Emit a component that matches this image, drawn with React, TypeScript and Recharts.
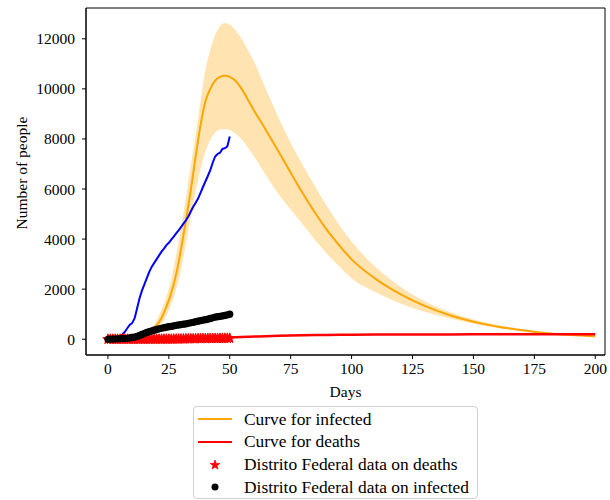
import React from "react";
import {
  ComposedChart,
  Area,
  Line,
  Scatter,
  XAxis,
  YAxis,
  ReferenceArea,
} from "recharts";

const FONT = "'Liberation Serif', 'Times New Roman', serif";

// model curves (days sampled unevenly, denser around the peak)
const modelDays = [
  0, 5, 10, 15, 18, 20, 22, 24, 26, 28, 30, 32, 34, 36, 38, 40, 42, 44, 46, 48,
  50, 52, 55, 58, 60, 65, 70, 75, 80, 85, 90, 95, 100, 110, 120, 130, 140, 150,
  160, 170, 180, 190, 200,
];
const infectedMid = [
  0, 5, 40, 160, 350, 550, 850, 1300, 1850, 2600, 3600, 4750, 5950, 7300, 8550,
  9500, 10000, 10330, 10480, 10520, 10480, 10350, 9980, 9470, 9130, 8330, 7500,
  6650, 5820, 5050, 4350, 3740, 3190, 2400, 1800, 1330, 970, 700, 500, 360, 240,
  170, 120,
];
const infectedHigh = [
  0, 8, 60, 220, 460, 770, 1180, 1700, 2400, 3350, 4450, 5650, 6950, 8150, 9500,
  10750, 11550, 12150, 12500, 12630, 12570, 12380, 11980, 11450, 11080, 9950,
  8850, 7850, 6950, 6100, 5300, 4550, 3900, 2870, 2100, 1520, 1100, 790, 570,
  410, 280, 190, 130,
];
const infectedLow = [
  0, 3, 25, 110, 250, 400, 620, 950, 1400, 2000, 2800, 3800, 4900, 5900, 6800,
  7500, 7950, 8250, 8380, 8400, 8360, 8240, 7970, 7580, 7300, 6530, 5800, 5180,
  4580, 3960, 3400, 2900, 2430, 1880, 1430, 1100, 840, 630, 470, 350, 260, 190,
  130,
];
const deathsCurve = [
  0, 0, 1, 3, 5, 7, 9, 11, 13, 16, 20, 24, 28, 33, 38, 44, 50, 56, 62, 68, 75,
  82, 92, 102, 108, 123, 137, 149, 159, 167, 173, 178, 182, 187, 190, 192, 193,
  194, 195, 195, 196, 196, 196,
];

// observed data, one value per day (days 0..50)
const obsDays = [
  0, 1, 2, 3, 4, 5, 6, 7, 8, 9, 10, 11, 12, 13, 14, 15, 16, 17, 18, 19, 20, 21,
  22, 23, 24, 25, 26, 27, 28, 29, 30, 31, 32, 33, 34, 35, 36, 37, 38, 39, 40,
  41, 42, 43, 44, 45, 46, 47, 48, 49, 50,
];
const blueSeries = [
  20, 20, 25, 30, 60, 120, 200, 300, 450, 580, 650, 850, 1250, 1650, 1950,
  2200, 2450, 2700, 2900, 3050, 3200, 3350, 3500, 3620, 3760, 3850, 3980, 4100,
  4230, 4350, 4480, 4620, 4750, 4900, 5100, 5290, 5450, 5620, 5850, 6080, 6300,
  6520, 6750, 7050, 7300, 7400, 7450, 7600, 7630, 7700, 8100,
];
const infectedObs = [
  0, 2, 5, 10, 15, 20, 25, 30, 40, 55, 70, 85, 110, 150, 190, 230, 270, 300,
  330, 360, 390, 415, 435, 460, 480, 500, 510, 530, 550, 570, 585, 600, 615,
  635, 655, 675, 700, 720, 740, 760, 780, 800, 830, 855, 880, 900, 915, 930,
  950, 970, 1000,
];
const deathsObs = [
  0, 0, 0, 0, 0, 0, 0, 0, 0, 0, 0, 0, 0, 0, 0, 0, 0, 0, 1, 1, 2, 2, 3, 3, 4, 5,
  6, 7, 8, 10, 12, 13, 15, 17, 19, 21, 23, 25, 27, 28, 30, 31, 32, 33, 34, 35,
  36, 37, 38, 39, 40,
];

const xTicks = [0, 25, 50, 75, 100, 125, 150, 175, 200];
const yTicks = [0, 2000, 4000, 6000, 8000, 10000, 12000];
const X_DOMAIN = [-9, 204];
const Y_DOMAIN = [-630, 13230];

const modelData = modelDays.map((d, i) => ({
  day: d,
  mid: infectedMid[i],
  band: [infectedLow[i], infectedHigh[i]],
  deaths: deathsCurve[i],
}));
const blueData = obsDays.map((d, i) => ({ day: d, value: blueSeries[i] }));
const infectedData = obsDays.map((d, i) => ({ day: d, value: infectedObs[i] }));
const deathsData = obsDays.map((d, i) => ({ day: d, value: deathsObs[i] }));

const starPath = (cx: number, cy: number, R: number) => {
  const r = R * 0.4;
  let p = "";
  for (let k = 0; k < 10; k++) {
    const rad = k % 2 === 0 ? R : r;
    const a = -Math.PI / 2 + (k * Math.PI) / 5;
    p += (k === 0 ? "M" : "L") + (cx + rad * Math.cos(a)) + "," + (cy + rad * Math.sin(a));
  }
  return p + "Z";
};

const Star = (props: any) => {
  const { cx, cy } = props;
  if (cx == null || cy == null) return null;
  return (
    <path
      d={starPath(cx, cy, 5.4)}
      fill="#ff0000"
      stroke="#ff0000"
      strokeWidth={1}
      strokeLinejoin="round"
    />
  );
};

const Dot = (props: any) => {
  const { cx, cy } = props;
  if (cx == null || cy == null) return null;
  return <circle cx={cx} cy={cy} r={3.6} fill="#000" />;
};

const tickStyle = { fill: "#000", fontSize: 15.5, fontFamily: FONT };

const legendRows = [
  { label: "Curve for infected", kind: "line", color: "#ffa500" },
  { label: "Curve for deaths", kind: "line", color: "#ff0000" },
  { label: "Distrito Federal data on deaths", kind: "star", color: "#ff0000" },
  { label: "Distrito Federal data on infected", kind: "dot", color: "#000" },
];

const LegendBox = () => (
  <div
    style={{
      position: "absolute",
      left: 193,
      top: 406,
      width: 283,
      height: 91,
      border: "1px solid #d0d0d0",
      borderRadius: 4,
      background: "rgba(255,255,255,0.8)",
      fontFamily: FONT,
      fontSize: 17.4,
      color: "#000",
    }}
  >
    {legendRows.map((row, i) => (
      <div
        key={row.label}
        style={{
          position: "absolute",
          left: 3,
          top: 1 + i * 22.8,
          height: 22,
          display: "flex",
          alignItems: "center",
          whiteSpace: "nowrap",
        }}
      >
        <svg width={36} height={22} style={{ marginRight: 11 }}>
          {row.kind === "line" && (
            <line x1={1} y1={11} x2={35} y2={11} stroke={row.color} strokeWidth={2} />
          )}
          {row.kind === "star" && (
            <path d={starPath(18, 11, 5)} fill={row.color} stroke={row.color} strokeWidth={0.8} />
          )}
          {row.kind === "dot" && <circle cx={18} cy={11} r={3.5} fill={row.color} />}
        </svg>
        <span>{row.label}</span>
      </div>
    ))}
  </div>
);

export default function App() {
  return (
    <div
      style={{
        position: "absolute",
        left: 0,
        top: 0,
        width: 610,
        height: 500,
        background: "#fff",
      }}
    >
      <ComposedChart
        width={610}
        height={500}
        data={modelData}
        margin={{ top: 8, right: 5, bottom: 103, left: 0 }}
      >
        <XAxis
          dataKey="day"
          type="number"
          domain={X_DOMAIN}
          ticks={xTicks}
          allowDataOverflow
          height={42}
          stroke="#000"
          tickSize={4}
          tickMargin={4}
          tick={tickStyle}
          label={{
            value: "Days",
            position: "insideBottom",
            offset: 0,
            fill: "#000",
            fontSize: 15.5,
            fontFamily: FONT,
          }}
        />
        <YAxis
          type="number"
          domain={Y_DOMAIN}
          ticks={yTicks}
          allowDataOverflow
          width={86}
          stroke="#000"
          tickSize={4}
          tickMargin={7}
          tick={tickStyle}
        />
        <Area
          dataKey="band"
          type="monotone"
          stroke="none"
          fill="#ffa500"
          fillOpacity={0.3}
          isAnimationActive={false}
          activeDot={false}
        />
        <Line
          dataKey="mid"
          type="monotone"
          stroke="#ffa500"
          strokeWidth={2}
          dot={false}
          activeDot={false}
          isAnimationActive={false}
        />
        <Line
          dataKey="deaths"
          type="monotone"
          stroke="#ff0000"
          strokeWidth={2.5}
          dot={false}
          activeDot={false}
          isAnimationActive={false}
        />
        <Scatter
          data={deathsData}
          dataKey="value"
          shape={<Star />}
          isAnimationActive={false}
        />
        <Scatter
          data={infectedData}
          dataKey="value"
          shape={<Dot />}
          isAnimationActive={false}
        />
        <Line
          data={blueData}
          dataKey="value"
          type="linear"
          stroke="#0000ff"
          strokeWidth={2}
          dot={false}
          activeDot={false}
          isAnimationActive={false}
        />
        <ReferenceArea
          x1={X_DOMAIN[0]}
          x2={X_DOMAIN[1]}
          y1={Y_DOMAIN[0]}
          y2={Y_DOMAIN[1]}
          fill="none"
          stroke="#000"
          strokeWidth={1}
        />
      </ComposedChart>
      <svg
        width={610}
        height={500}
        style={{ position: "absolute", left: 0, top: 0, pointerEvents: "none" }}
      >
        <text
          x={21}
          y={173}
          transform="rotate(-90, 21, 173)"
          textAnchor="middle"
          dominantBaseline="central"
          fontFamily={FONT}
          fontSize={15.5}
          fill="#000"
        >
          Number of people
        </text>
      </svg>
      <LegendBox />
    </div>
  );
}
